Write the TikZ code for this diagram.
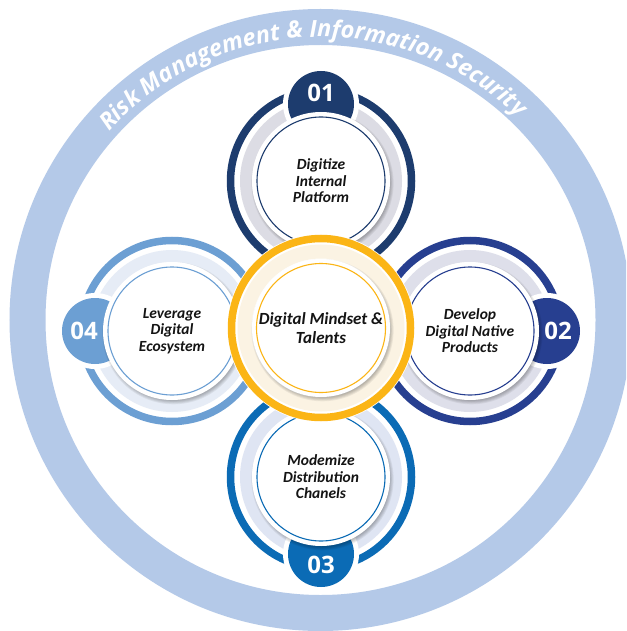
\documentclass[tikz,border=0pt]{standalone}
\usepackage{fontspec}
\setmainfont{Carlito}
\newfontfamily\numfont{Open Sans}
\usetikzlibrary{decorations.text,calc}
\definecolor{ringblue}{HTML}{B4C9E8}
\definecolor{cA}{HTML}{1D3C6E}
\definecolor{cB}{HTML}{273F90}
\definecolor{cC}{HTML}{0B6BB5}
\definecolor{cD}{HTML}{6C9FD3}
\definecolor{cE}{HTML}{FBB516}
\definecolor{gA}{HTML}{DCDCE4}
\definecolor{gB}{HTML}{DEDFEA}
\definecolor{gC}{HTML}{DFE5F3}
\definecolor{gD}{HTML}{E6ECF6}
\definecolor{gE}{HTML}{FBF3E3}
\definecolor{txt}{HTML}{141414}
\tikzset{
  labeltext/.style={align=center, text=txt, font=\fontsize{15.5}{16.5}\selectfont\bfseries\itshape},
  centertext/.style={align=center, text=txt, font=\fontsize{17}{19.5}\selectfont\bfseries\itshape},
  numtext/.style={text=white, font=\numfont\fontsize{24}{24}\selectfont\bfseries},
}
\newcommand{\softshadow}[2]{% #1 center, #2 radius
  \foreach \k in {0,1,2,3,4}{
    \fill[black, opacity=0.06] ($(#1)+(1.5,-2.2)$) circle[radius=#2+\k*0.9-1.5];
  }
}
\newcommand{\satellite}[8]{% name, x, y, colour, light colour, badge angle, number, label
  \coordinate (#1) at (#2,#3);
  \draw[#4, line width=7.5pt] (#1) circle[radius=90.5];
  \draw[#5, line width=12pt] (#1) circle[radius=75];
  \fill[white] ($(#1)+(#6:77)$) circle[radius=38];
  \fill[#4] ($(#1)+(#6:77)$) circle[radius=33];
  \softshadow{#1}{69}
  \fill[white] (#1) circle[radius=69];
  \draw[#4, line width=1.1pt] (#1) circle[radius=64];
  \node[labeltext] (#1-label) at (#1) {#8};
  \node[numtext] (#1-num) at ($(#1)+(#6:88)$) {#7};
}
\begin{document}
\begin{tikzpicture}[x=1pt,y=1pt]
\useasboundingbox (0,0) rectangle (626,-631);
\clip (0,0) rectangle (626,-631);
\fill[white] (0,0) rectangle (626,-631);
% outer ring
\coordinate (ringc) at (320.5,-320);
\draw[ringblue, line width=36pt] (ringc) circle[radius=293];
\path[decorate, decoration={text along path, text align=center, text color=white,
  text={|\numfont\fontsize{23.5}{23.5}\selectfont\bfseries\itshape|Risk Management {\&} Information Security}}]
  ($(ringc)+(158:283)$) arc[start angle=158, end angle=26, radius=283];
% satellites
\satellite{top}{321}{-181}{cA}{gA}{90}{01}{Digitize\\Internal\\Platform}
\satellite{right}{470}{-331}{cB}{gB}{0}{02}{Develop\\Digital Native\\Products}
\satellite{bottom}{321}{-477}{cC}{gC}{-90}{03}{Modemize\\Distribution\\Chanels}
\satellite{left}{172}{-331}{cD}{gD}{180}{04}{Leverage\\Digital\\Ecosystem}
% centre
\coordinate (mid) at (321,-328);
\fill[white] (mid) circle[radius=94];
\draw[cE, line width=7.5pt] (mid) circle[radius=89.5];
\draw[gE, line width=14pt] (mid) circle[radius=76.5];
\softshadow{mid}{69}
\fill[white] (mid) circle[radius=69];
\draw[cE, line width=1.1pt] (mid) circle[radius=64.5];
\node[centertext] (mid-label) at (mid) {Digital Mindset \&\\Talents};
\end{tikzpicture}
\end{document}
